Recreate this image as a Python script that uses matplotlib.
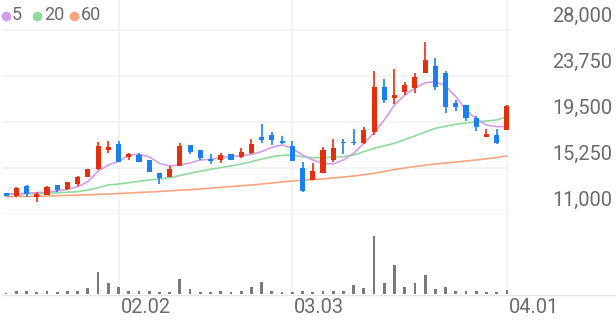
import numpy as np
import pandas as pd
import matplotlib
matplotlib.use("Agg")
import matplotlib.pyplot as plt
from matplotlib.lines import Line2D

plt.rcParams["font.family"] = ["Roboto", "DejaVu Sans"]

# trading days (KRX holidays removed)
holidays = ["2026-02-16", "2026-02-17", "2026-02-18", "2026-03-02"]
dates = pd.bdate_range("2026-01-16", "2026-04-01", freq="C", holidays=holidays)
tick_dates = ["2026-02-02", "2026-03-03", "2026-04-01"]

opens = [12910, 12690, 13590, 12540, 12760, 13680, 13280, 13770, 14450, 15190,
         16910, 17440, 16240, 16450, 15990, 14760, 14450, 15430, 17380, 16910,
         16050, 15990, 16530, 16220, 16610, 18070, 18300, 17750, 17280, 15220,
         14140, 14820, 15990, 17680, 17680, 17530, 18600, 22760, 21690, 22250,
         22630, 24060, 24670, 24060, 21280, 21070, 19840, 18140, 18300, 18760]
highs = [12950, 13520, 13680, 12990, 13580, 13700, 14000, 14510, 15170, 17620,
         17770, 17770, 16600, 16600, 16000, 14780, 15390, 17530, 17400, 16930,
         16510, 16660, 16550, 17070, 17920, 19290, 18610, 18160, 17740, 15830,
         15680, 17160, 17920, 17900, 18830, 19050, 24240, 23450, 24370, 23220,
         24000, 26920, 25380, 24240, 21530, 21100, 20050, 18850, 18820, 21100]
lows = [12620, 12600, 12540, 12140, 12720, 13000, 13240, 13590, 14420, 15060,
        16660, 15800, 15990, 15800, 14900, 13770, 14420, 15400, 16540, 15990,
        15620, 15690, 15950, 16200, 16580, 17590, 17380, 17500, 15880, 13060,
        14120, 14800, 15840, 16570, 17330, 17500, 18320, 21220, 21160, 21990,
        22210, 24000, 22440, 20300, 20520, 19620, 18640, 18140, 17500, 18740]
closes = [12660, 13430, 12850, 12850, 13540, 13220, 13960, 14390, 15130, 17280,
          17220, 15830, 16540, 15830, 14920, 14300, 15130, 17280, 16760, 16150,
          15900, 16450, 15990, 16760, 17440, 17840, 17840, 17530, 15900, 13080,
          15010, 16910, 17130, 17530, 17530, 18760, 22760, 21490, 21990, 22920,
          23700, 25230, 22760, 20870, 20920, 19840, 19010, 18390, 17530, 20980]
volumes = [3, 10, 8, 5, 8, 7, 10, 10, 19, 65,
           33, 20, 8, 8, 8, 6, 7, 45, 15, 6,
           7, 8, 5, 10, 21, 35, 10, 5, 6, 8,
           5, 9, 9, 10, 26, 19, 172, 32, 86, 21,
           32, 56, 14, 22, 9, 9, 9, 5, 7, 12]

ma5 = [12820, 12850, 12910, 12970, 13030, 13130, 13280, 13520, 13980, 14970,
       15530, 15850, 16450, 16520, 16290, 15680, 15440, 15530, 15710, 15990,
       16050, 16200, 16290, 16390, 16500, 16760, 17160, 17380, 17070, 16450,
       15990, 15680, 15620, 15990, 16610, 17530, 18480, 19690, 21070, 21990,
       22610, 23130, 23220, 22830, 21840, 20610, 19750, 19220, 19070, 19070]
ma20 = [12850, 12870, 12890, 12890, 12910, 12960, 13010, 13060, 13220, 13430,
        13680, 13770, 13890, 14020, 14140, 14250, 14350, 14560, 14760, 14950,
        15130, 15280, 15440, 15620, 15830, 16080, 16290, 16410, 16450, 16290,
        16200, 16200, 16250, 16290, 16450, 16760, 17070, 17300, 17530, 17880,
        18210, 18580, 18920, 19100, 19290, 19410, 19530, 19590, 19690, 19990]
ma60 = [12600, 12610, 12630, 12650, 12660, 12690, 12720, 12750, 12770, 12810,
        12850, 12890, 12940, 12990, 13030, 13080, 13140, 13200, 13250, 13310,
        13380, 13460, 13530, 13610, 13680, 13770, 13860, 13960, 14050, 14110,
        14180, 14240, 14330, 14420, 14510, 14630, 14760, 14930, 15110, 15250,
        15390, 15510, 15620, 15710, 15800, 15900, 15990, 16100, 16220, 16360]

price_ticks = [11000, 15250, 19500, 23750, 28000]

UP = "#e42f0c"
DOWN = "#1a7ff0"
GRID = "#f1f1f1"
TEXT = "#6b6b6b"

W, H = 616, 321
fig = plt.figure(figsize=(W / 100, H / 100), dpi=100)

left, right = 2, 510
ax = fig.add_axes([left / W, 1 - 214 / H, (right - left) / W, 214 / H])
vax = fig.add_axes([left / W, 1 - 294 / H, (right - left) / W, 80 / H])

x = np.arange(len(dates))
o = np.array(opens)
c = np.array(closes)
up = c >= o
colors = np.where(up, UP, DOWN)

for a in (ax, vax):
    a.set_xlim(-0.4, 49.3)
    for s in a.spines.values():
        s.set_visible(False)
    a.set_xticks([])
    a.set_yticks([])
    a.patch.set_alpha(0)

ax.set_ylim(11000, 30770)
vax.set_ylim(0, 237)

# grid
for v in price_ticks:
    ax.axhline(v, color=GRID, lw=1.2, zorder=0)
tick_pos = [dates.get_loc(pd.Timestamp(d)) for d in tick_dates]
for p in tick_pos:
    ax.axvline(p, color=GRID, lw=1.2, zorder=0)
    vax.axvline(p, color=GRID, lw=1.2, zorder=0)

# moving averages
ax.plot(x, ma60, color="#f9a47e", lw=1.2, zorder=2)
ax.plot(x, ma20, color="#8edb9c", lw=1.2, zorder=2)
ax.plot(x, ma5, color="#d69be9", lw=1.2, zorder=2)

# candles
ax.vlines(x, lows, highs, colors=colors, lw=1.2, zorder=3)
body_h = np.maximum(np.abs(c - o), 80)
ax.bar(x, body_h, bottom=np.minimum(o, c), width=0.5, color=colors, zorder=4)

# volume
vax.bar(x, volumes, width=0.27, color="#7a7a7a", zorder=3)
fig.add_artist(Line2D([left / W, 1], [1 - 294.5 / H] * 2, color="#e6e6e6", lw=1))

# price labels on the right
for v in price_ticks:
    ax.annotate(f"{v:,}", xy=(1, v), xycoords=("axes fraction", "data"),
                xytext=(73.5, 10), textcoords="offset points",
                ha="right", va="center", fontsize=14.4, color=TEXT)

# date labels
for p, d in zip(tick_pos, tick_dates):
    vax.annotate(pd.Timestamp(d).strftime("%m.%d"), xy=(p, 0), xycoords="data",
                 xytext=(1.5, -9.5), textcoords="offset points",
                 ha="left", va="center", fontsize=14.4, color=TEXT)

# legend
legend_items = [("5", "#d69be9", 6, 12), ("20", "#8edb9c", 37, 44), ("60", "#f9a47e", 74, 81)]
for label, col, cx, tx in legend_items:
    fig.add_artist(Line2D([cx / W], [1 - 15.5 / H], marker="o", markersize=7,
                          color=col, markeredgewidth=0))
    fig.text(tx / W, 1 - 15.5 / H, label, ha="left", va="center",
             fontsize=13, color=TEXT)

fig.savefig("out.png", dpi=100)
